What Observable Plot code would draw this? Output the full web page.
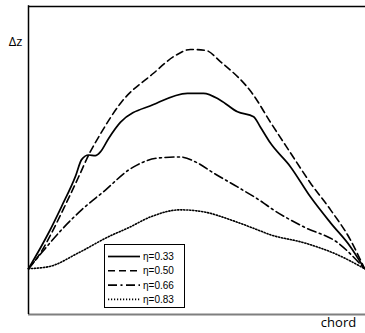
<!DOCTYPE html>
<html><head><meta charset="utf-8">
<script src="https://cdn.jsdelivr.net/npm/d3@7"></script>
<script src="https://cdn.jsdelivr.net/npm/@observablehq/plot@0.6"></script>
<style>
body{margin:0;background:#fff}
#wrap{position:relative;width:365px;height:333px}
#legend{position:absolute;left:104px;top:244px}
</style>
</head><body><div id="wrap"></div>
<script>
// series labels
const etaLabels = ["η=0.33", "η=0.50", "η=0.66", "η=0.83"];

// η=0.33 (solid)
const chord033 = [0, 0.060, 0.098, 0.140, 0.158, 0.179, 0.199, 0.214, 0.238, 0.274, 0.372, 0.473, 0.521, 0.571, 0.622, 0.670, 0.690, 0.720, 0.780, 0.839, 0.899, 0.958, 1];
const dz033    = [0, 0.163, 0.281, 0.420, 0.495, 0.516, 0.513, 0.530, 0.590, 0.665, 0.745, 0.796, 0.796, 0.765, 0.712, 0.690, 0.643, 0.570, 0.462, 0.326, 0.208, 0.100, 0];

// η=0.50 (dashed)
const chord050 = [0, 0.036, 0.069, 0.110, 0.149, 0.179, 0.214, 0.274, 0.372, 0.438, 0.482, 0.527, 0.571, 0.670, 0.720, 0.780, 0.839, 0.899, 0.958, 1];
const dz050    = [0, 0.072, 0.163, 0.290, 0.416, 0.516, 0.611, 0.751, 0.887, 0.968, 0.995, 0.991, 0.940, 0.787, 0.665, 0.525, 0.389, 0.267, 0.131, 0];

// η=0.66 (dash-dot)
const chord066 = [0, 0.039, 0.098, 0.158, 0.229, 0.298, 0.313, 0.384, 0.452, 0.503, 0.551, 0.622, 0.699, 0.720, 0.819, 0.920, 1];
const dz066    = [0, 0.072, 0.176, 0.267, 0.357, 0.448, 0.462, 0.502, 0.507, 0.480, 0.434, 0.371, 0.299, 0.276, 0.190, 0.118, 0];

// η=0.83 (dotted)
const chord083 = [0, 0.060, 0.149, 0.238, 0.298, 0.363, 0.452, 0.521, 0.601, 0.682, 0.720, 0.819, 0.920, 1];
const dz083    = [0, 0.009, 0.072, 0.145, 0.186, 0.235, 0.267, 0.258, 0.222, 0.176, 0.154, 0.118, 0.063, 0];

const xDomain = [0, 1];
const yDomain = [-0.208, 1.19];
const axisLabels = ["Δz", "chord"];

const chords = [chord033, chord050, chord066, chord083];
const dzs = [dz033, dz050, dz066, dz083];
const dashes = [null, "7,4", "9,3.5,2,3.5", "1.2,1.8"];
const widths = [1.7, 1.6, 1.6, 1.6];

const series = etaLabels.map((eta, i) => chords[i].map((c, j) => ({eta, chord: c, dz: dzs[i][j]})));

const lineMarks = series.map((rows, i) => Plot.line(rows, {
  x: "chord", y: "dz", curve: "monotone-x",
  stroke: "#000", strokeWidth: widths[i],
  strokeDasharray: dashes[i] || undefined
}));

const plot = Plot.plot({
  width: 365, height: 333,
  marginTop: 6, marginLeft: 28, marginRight: 1, marginBottom: 19,
  x: {domain: xDomain, axis: null},
  y: {domain: yDomain, axis: null},
  style: {background: "#fff", fontFamily: "'Open Sans', sans-serif"},
  marks: [
    Plot.ruleY([yDomain[0]], {stroke: "#7f7f7f", strokeWidth: 2, insetRight: -1}),
    Plot.ruleX([xDomain[0]], {stroke: "#000", strokeWidth: 1.5, insetTop: -0.75}),
    Plot.ruleY([yDomain[1]], {stroke: "#000", strokeWidth: 1.5, insetRight: -1}),
    ...lineMarks,
    Plot.text([axisLabels[0]], {frameAnchor: "top-left", text: d => d, textAnchor: "middle", dx: -13, dy: 30, fontSize: 13, fill: "#000"}),
    Plot.text([axisLabels[1]], {frameAnchor: "bottom-right", text: d => d, textAnchor: "middle", dx: -26, dy: 12, fontSize: 13, fill: "#000"})
  ]
});
const wrap = document.getElementById("wrap");
wrap.appendChild(plot);

// legend overlay
const lg = d3.select(wrap).append("svg").attr("id", "legend")
  .attr("width", 82).attr("height", 65);
lg.append("rect").attr("x", 0.5).attr("y", 0.5).attr("width", 80).attr("height", 63)
  .attr("fill", "#fff").attr("stroke", "#000").attr("stroke-width", 1);
etaLabels.forEach((eta, i) => {
  const yy = 12.5 + i * 14.3;
  lg.append("line").attr("x1", 4).attr("x2", 36).attr("y1", yy).attr("y2", yy)
    .attr("stroke", "#000").attr("stroke-width", widths[i])
    .attr("stroke-dasharray", dashes[i]);
  lg.append("text").attr("x", 39).attr("y", yy + 3.6).text(eta)
    .attr("font-family", "'Liberation Sans', Arial, sans-serif").attr("font-size", 10).attr("fill", "#000");
});
</script>
</body></html>
